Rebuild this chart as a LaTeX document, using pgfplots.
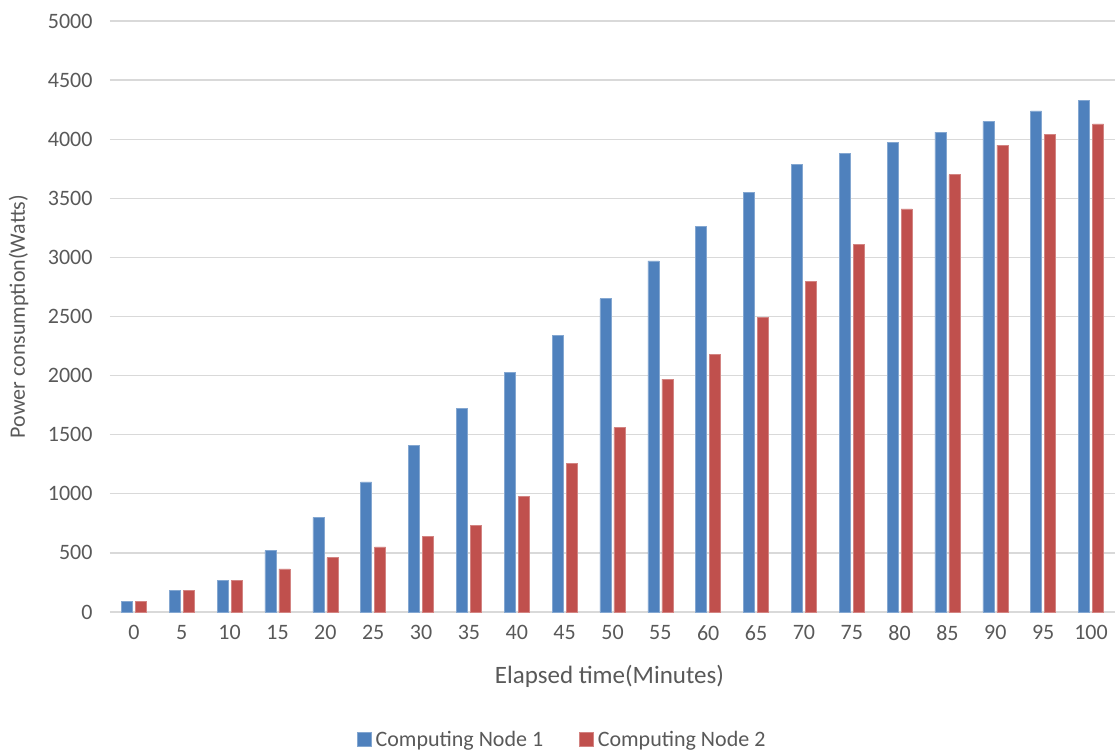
\documentclass[border=0pt]{standalone}
\usepackage{pgfplots}
\pgfplotsset{compat=1.18}
\usepackage{fontspec}
\setmainfont{Carlito}
\definecolor{nodeblue}{HTML}{4F81BD}
\definecolor{nodered}{HTML}{C0504D}
\definecolor{gridgray}{HTML}{D9D9D9}
\definecolor{textgray}{HTML}{595959}

\begin{document}
\begin{tikzpicture}
\useasboundingbox (-110pt,-143pt) rectangle (1005pt,612pt);
\begin{axis}[
  scale only axis,
  width=1005pt, height=591pt,
  ybar=3pt, bar width=11pt,
  xmin=-0.5, xmax=20.5,
  ymin=0, ymax=5000,
  ytick={0,500,...,5000},
  xtick={0,...,20},
  xticklabels={0,5,10,15,20,25,30,35,40,45,50,55,60,65,70,75,80,85,90,95,100},
  /pgf/number format/assume math mode=true,
  /pgf/number format/1000 sep={},
  scaled y ticks=false,
  ymajorgrids,
  grid style={gridgray, line width=1.3pt},
  axis x line*=bottom,
  axis y line*=left,
  y axis line style={draw=none},
  x axis line style={gridgray, line width=1.3pt, -},
  major tick length=0pt,
  tick label style={font=\fontsize{22}{26}\selectfont, text=textgray},
  yticklabel style={xshift=-14pt},
  xticklabel style={yshift=-10pt},
  label style={font=\fontsize{22}{26}\selectfont, text=textgray},
  xlabel={Elapsed time(Minutes)},
  ylabel={Power consumption(Watts)},
  xlabel style={at={(axis description cs:0.497,0)}, anchor=north, yshift=-50pt,
    font=\fontsize{25}{30}\selectfont},
  ylabel style={at={(axis description cs:0,0.5)}, anchor=south, yshift=78pt},
  legend style={at={(0.45,-0.195)}, anchor=north, draw=none, legend columns=2,
    font=\fontsize{22}{26}\selectfont, text=textgray,
    /tikz/every odd column/.append style={column sep=2pt},
    /tikz/every even column/.append style={column sep=34pt}},
  legend image code/.code={\fill[#1] (0pt,-6.5pt) rectangle (14pt,7.5pt);},
]
\addplot[fill=nodeblue, draw=nodeblue!70!white, line width=0.6pt] coordinates {
  (0,90) (1,180) (2,265) (3,520) (4,800) (5,1100) (6,1410) (7,1720) (8,2030)
  (9,2340) (10,2650) (11,2970) (12,3260) (13,3550) (14,3790) (15,3880)
  (16,3970) (17,4060) (18,4150) (19,4240) (20,4330)};
\addplot[fill=nodered, draw=nodered!70!white, line width=0.6pt] coordinates {
  (0,90) (1,180) (2,270) (3,365) (4,460) (5,550) (6,640) (7,730) (8,980)
  (9,1260) (10,1560) (11,1970) (12,2180) (13,2490) (14,2800) (15,3110)
  (16,3410) (17,3700) (18,3950) (19,4040) (20,4130)};
\legend{Computing Node 1, Computing Node 2}
\end{axis}
\end{tikzpicture}
\end{document}
